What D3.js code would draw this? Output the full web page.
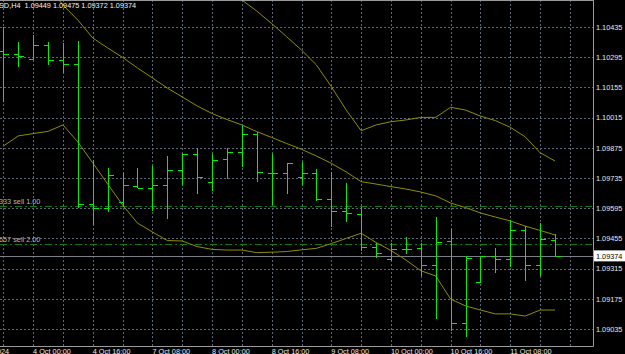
<!DOCTYPE html>
<html><head><meta charset="utf-8">
<script src="https://cdn.jsdelivr.net/npm/d3@7"></script>
<style>html,body{margin:0;padding:0;background:#000;overflow:hidden}</style>
</head><body><div id="chart"></div>
<script>
const times = ["3 Oct 16:00","3 Oct 20:00","4 Oct 00:00","4 Oct 04:00","4 Oct 08:00","4 Oct 12:00","4 Oct 16:00","4 Oct 20:00",
"7 Oct 00:00","7 Oct 04:00","7 Oct 08:00","7 Oct 12:00","7 Oct 16:00","7 Oct 20:00",
"8 Oct 00:00","8 Oct 04:00","8 Oct 08:00","8 Oct 12:00","8 Oct 16:00","8 Oct 20:00",
"9 Oct 00:00","9 Oct 04:00","9 Oct 08:00","9 Oct 12:00","9 Oct 16:00","9 Oct 20:00",
"10 Oct 00:00","10 Oct 04:00","10 Oct 08:00","10 Oct 12:00","10 Oct 16:00","10 Oct 20:00",
"11 Oct 00:00","11 Oct 04:00","11 Oct 08:00","11 Oct 12:00","11 Oct 16:00","11 Oct 20:00"];
const openP  = [1.10325,1.10310,1.10285,1.10350,1.10282,1.10262,1.09613,1.09597,1.09625,1.09699,1.09687,1.09704,1.09772,1.09845,1.09715,1.09822,1.09857,1.09939,1.09760,1.09760,1.09741,1.09757,1.09636,1.09582,1.09567,1.09417,1.09358,1.09406,1.09409,1.09332,1.09444,1.09061,1.09251,1.09375,1.09359,1.09494,1.09332,1.09449];
const highP  = [1.10436,1.10365,1.10398,1.10365,1.10359,1.10371,1.09818,1.09780,1.09760,1.09780,1.09791,1.09837,1.09850,1.09873,1.09845,1.09873,1.09977,1.09947,1.09845,1.09806,1.09811,1.09775,1.09764,1.09710,1.09599,1.09432,1.09432,1.09463,1.09435,1.09553,1.09499,1.09375,1.09375,1.09409,1.09540,1.09512,1.09525,1.09475];
const lowP   = [1.10089,1.10251,1.10282,1.10259,1.10220,1.09594,1.09517,1.09579,1.09602,1.09687,1.09583,1.09544,1.09703,1.09660,1.09675,1.09729,1.09787,1.09718,1.09610,1.09659,1.09703,1.09628,1.09509,1.09530,1.09398,1.09363,1.09352,1.09381,1.09281,1.09080,1.09027,1.08999,1.09251,1.09296,1.09324,1.09259,1.09281,1.09372];
const closeP = [1.10310,1.10301,1.10350,1.10282,1.10262,1.09613,1.09597,1.09749,1.09703,1.09687,1.09704,1.09772,1.09845,1.09738,1.09818,1.09857,1.09939,1.09763,1.09760,1.09806,1.09757,1.09636,1.09582,1.09571,1.09417,1.09389,1.09404,1.09406,1.09332,1.09440,1.09061,1.09363,1.09373,1.09358,1.09494,1.09332,1.09451,1.09374];
const upperBand = [null,null,null,null,null,null,null,null,null,null,null,null,null,null,null,
1.10607,1.10560,1.10509,1.10451,1.10390,1.10328,1.10259,1.10158,1.10050,1.09954,1.09981,1.09996,1.10004,1.10016,1.10016,1.10063,1.10050,1.10022,1.10001,1.09970,1.09926,1.09852,1.09814];
const middleBand = [null,null,null,1.10625,1.10537,1.10467,1.10384,1.10338,1.10294,1.10245,1.10199,1.10152,1.10111,1.10069,1.10034,1.10006,1.09981,1.09950,1.09923,1.09895,1.09868,1.09837,1.09803,1.09763,1.09718,1.09707,1.09695,1.09684,1.09670,1.09652,1.09619,1.09598,1.09573,1.09554,1.09536,1.09512,1.09492,1.09471];
const lowerBand = [1.09883,1.09930,1.09941,1.09951,1.09981,1.09902,1.09805,1.09707,1.09610,1.09526,1.09485,1.09445,1.09443,1.09417,1.09404,1.09401,1.09401,1.09389,1.09391,1.09394,1.09402,1.09409,1.09431,1.09455,1.09479,1.09436,1.09399,1.09355,1.09305,1.09281,1.09174,1.09142,1.09123,1.09105,1.09105,1.09095,1.09123,1.09123];
const priceTicks = [1.10435,1.10295,1.10155,1.10015,1.09875,1.09735,1.09595,1.09455,1.09315,1.09175,1.09035];
const timeTickLabels = ["4 Oct 00:00","4 Oct 16:00","7 Oct 08:00","8 Oct 00:00","8 Oct 16:00","9 Oct 08:00","10 Oct 00:00","10 Oct 16:00","11 Oct 08:00"];
const firstDateLabel = "3 Oct 2024";
const symbolLabel = "SD,H4";
const orderPrices = [1.09607, 1.09427];
const orderLabels = ["333 sell 1.00", "657 sell 2.00"];

const W = 625, H = 354, plotRight = 593, plotBottom = 346;
const svg = d3.select("#chart").append("svg").attr("width", W).attr("height", H)
  .style("background", "#000").style("display","block");
const font = "'Liberation Sans', Arial, sans-serif";

const x = d3.scaleLinear().domain([0, times.length - 1]).range([3.3, 555]);
const y = d3.scaleLinear().domain([1.09035, 1.10435]).range([329, 27]);
const step = x(1) - x(0);

svg.append("defs").append("clipPath").attr("id","clip")
  .append("rect").attr("x",0).attr("y",0).attr("width",plotRight).attr("height",plotBottom);
const plot = svg.append("g").attr("clip-path","url(#clip)");

// grid
const gridColor = "#5b6677";
plot.selectAll("line.hg").data(priceTicks).join("line")
  .attr("x1",0).attr("x2",plotRight)
  .attr("y1",d=>Math.round(y(d))+0.5).attr("y2",d=>Math.round(y(d))+0.5)
  .attr("stroke",gridColor).attr("stroke-dasharray","2,2");
const vIdx = d3.range(0, times.length + 2, 2);
plot.selectAll("line.vg").data(vIdx).join("line")
  .attr("y1",0).attr("y2",plotBottom)
  .attr("x1",d=>Math.round(x(d))+0.5).attr("x2",d=>Math.round(x(d))+0.5)
  .attr("stroke",gridColor).attr("stroke-dasharray","2,2");

// order lines
plot.selectAll("line.ord").data(orderPrices).join("line")
  .attr("x1",0).attr("x2",plotRight)
  .attr("y1",d=>Math.round(y(d))+0.5).attr("y2",d=>Math.round(y(d))+0.5)
  .attr("stroke","#0d7a0d").attr("stroke-dasharray","7,3,2,3");
plot.selectAll("text.ord").data(orderLabels).join("text")
  .attr("x",-1).attr("y",(d,i)=>y(orderPrices[i])-2)
  .attr("fill","#b8b8b8").attr("font-family",font).attr("font-size","7.3px").text(d=>d);

// current price line
const lastClose = closeP[closeP.length-1];
plot.append("line").attr("x1",0).attr("x2",plotRight)
  .attr("y1",Math.round(y(lastClose))+0.5).attr("y2",Math.round(y(lastClose))+0.5)
  .attr("stroke","#7a7f88");

// bands
const bandColor = "#8f8f00";
[upperBand, middleBand, lowerBand].forEach(arr=>{
  const line = d3.line().defined(d=>d!=null).x((d,i)=>x(i)).y(d=>y(d));
  plot.append("path").attr("d", line(arr)).attr("fill","none")
    .attr("stroke",bandColor).attr("stroke-width",1);
});

// OHLC bars
const bars = plot.append("g").attr("stroke","#00f000").attr("stroke-width",1.2)
  .attr("shape-rendering","crispEdges");
times.forEach((t,i)=>{
  const cx = Math.round(x(i))+0.5;
  bars.append("line").attr("x1",cx).attr("x2",cx).attr("y1",y(highP[i])).attr("y2",y(lowP[i]));
  bars.append("line").attr("x1",cx-5).attr("x2",cx).attr("y1",Math.round(y(openP[i]))+0.5).attr("y2",Math.round(y(openP[i]))+0.5);
  bars.append("line").attr("x1",cx).attr("x2",cx+5).attr("y1",Math.round(y(closeP[i]))+0.5).attr("y2",Math.round(y(closeP[i]))+0.5);
});

// frame
svg.append("line").attr("x1",0).attr("x2",plotRight+0.5).attr("y1",0.5).attr("y2",0.5).attr("stroke","#9a9a9a");
svg.append("line").attr("x1",plotRight+0.5).attr("x2",plotRight+0.5).attr("y1",0).attr("y2",plotBottom+0.5).attr("stroke","#9a9a9a");
svg.append("line").attr("x1",0).attr("x2",plotRight+0.5).attr("y1",plotBottom+0.5).attr("y2",plotBottom+0.5).attr("stroke","#9a9a9a");

// price axis labels
svg.selectAll("text.pt").data(priceTicks).join("text")
  .attr("x",plotRight+3).attr("y",d=>y(d)+2.8)
  .attr("fill","#e8e8e8").attr("font-family",font).attr("font-size","7.3px")
  .text(d=>d.toFixed(5));
// current price box
const cy = y(lastClose);
svg.append("rect").attr("x",plotRight+1).attr("y",cy-5.5).attr("width",W-plotRight-1).attr("height",11).attr("fill","#fff");
svg.append("text").attr("x",plotRight+3).attr("y",cy+2.8).attr("fill","#000")
  .attr("font-family",font).attr("font-size","7.3px").text(lastClose.toFixed(5));

// time axis labels
svg.selectAll("text.tt").data(timeTickLabels).join("text")
  .attr("x",d=>x(times.indexOf(d))).attr("y",plotBottom+7.5)
  .attr("fill","#e8e8e8").attr("font-family",font).attr("font-size","7.3px").text(d=>d);
svg.append("text").attr("x",x(0)-2*step).attr("y",plotBottom+7.5)
  .attr("fill","#e8e8e8").attr("font-family",font).attr("font-size","7.3px").text(firstDateLabel);

// title
const n = times.length-1;
svg.append("text").attr("x",-1).attr("y",8)
  .attr("fill","#f0f0f0").attr("font-family",font).attr("font-size","7.3px")
  .attr("xml:space","preserve")
  .text(symbolLabel + "  " + [openP[n],highP[n],lowP[n],closeP[n]].map(v=>v.toFixed(5)).join(" "));
</script></body></html>
